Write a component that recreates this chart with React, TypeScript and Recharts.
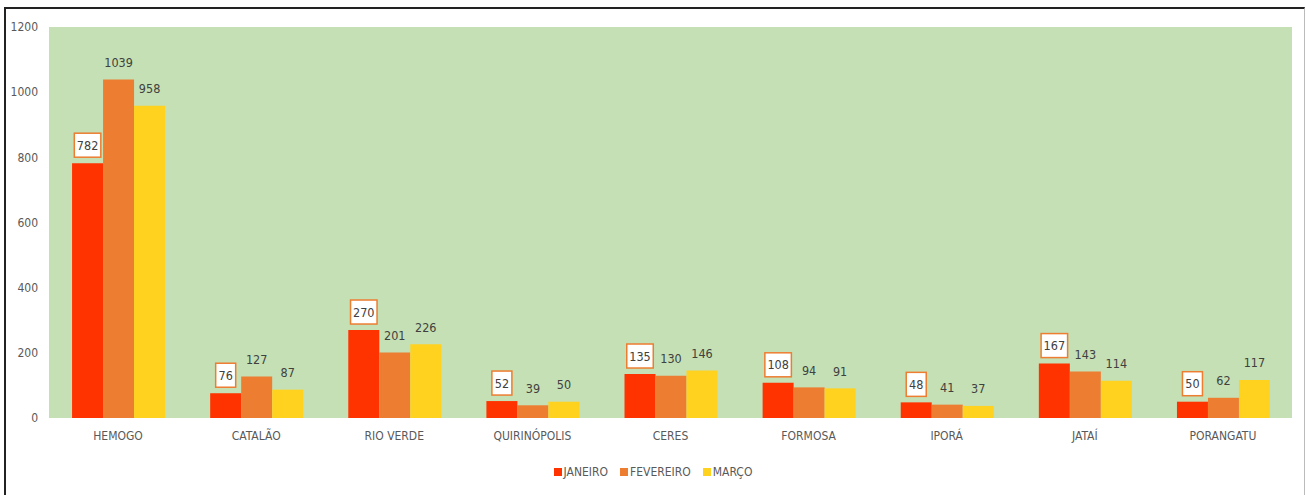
import React from 'react';
import { BarChart, Bar, XAxis, YAxis, CartesianGrid, LabelList } from 'recharts';

const categories = ['HEMOGO', 'CATALÃO', 'RIO VERDE', 'QUIRINÓPOLIS', 'CERES', 'FORMOSA', 'IPORÁ', 'JATAÍ', 'PORANGATU'];
const janeiro = [782, 76, 270, 52, 135, 108, 48, 167, 50];
const fevereiro = [1039, 127, 201, 39, 130, 94, 41, 143, 62];
const marco = [958, 87, 226, 50, 146, 91, 37, 114, 117];
const yTicks = [0, 200, 400, 600, 800, 1000, 1200];
const seriesNames = ['JANEIRO', 'FEVEREIRO', 'MARÇO'];
const seriesColors = ['#FF3300', '#ED7D31', '#FFD220'];

const data = categories.map((c, i) => ({ name: c, JANEIRO: janeiro[i], FEVEREIRO: fevereiro[i], 'MARÇO': marco[i] }));

const FONT = '"Liberation Sans Narrow", "DejaVu Sans Condensed", Arial, sans-serif';

const BoxLabel = (props: any) => {
  const { x, y, width, value } = props;
  const s = String(value);
  const w = s.length * 6.5 + 7;
  const h = 24;
  const cx = x + width / 2;
  return (
    <g>
      <rect x={cx - w / 2} y={y - 6 - h} width={w} height={h} fill="#FFFFFF" stroke="#ED7D31" strokeWidth={1.5} />
      <text x={cx} y={y - 6 - h / 2} textAnchor="middle" dominantBaseline="central" fontSize={12.5} fill="#404040" fontFamily={FONT}>{s}</text>
    </g>
  );
};

const PlainLabel = (props: any) => {
  const { x, y, width, value } = props;
  return (
    <text x={x + width / 2} y={y - 17} textAnchor="middle" dominantBaseline="central" fontSize={12.5} fill="#404040" fontFamily={FONT}>{value}</text>
  );
};

export default function App() {
  return (
    <div style={{ position: 'absolute', left: 0, top: 0, width: 1306, height: 495, background: '#fff', overflow: 'hidden', fontFamily: FONT }}>
      <div style={{ position: 'absolute', left: 4, top: 7, width: 1298, height: 500, borderTop: '2px solid #222', borderLeft: '2px solid #222', borderRight: '1px solid #bbb' }} />
      <div style={{ position: 'absolute', left: 0, top: 0 }}>
        <BarChart width={1306} height={495} data={data} margin={{ top: 27, right: 14, left: 0, bottom: 47 }} barCategoryGap="16.7%" barGap={0}>
          <CartesianGrid fill="#C5E0B4" stroke="none" horizontal={false} vertical={false} />
          <XAxis dataKey="name" height={30} axisLine={false} tickLine={false} tickSize={0} tickMargin={13} tick={{ fill: '#595959', fontSize: 12, fontFamily: FONT }} interval={0} />
          <YAxis width={49} domain={[0, 1200]} ticks={yTicks} axisLine={false} tickLine={false} tickSize={0} tickMargin={11} tick={{ fill: '#595959', fontSize: 12, fontFamily: FONT }} />
          <Bar dataKey="JANEIRO" fill={seriesColors[0]} isAnimationActive={false}>
            <LabelList dataKey="JANEIRO" content={BoxLabel} />
          </Bar>
          <Bar dataKey="FEVEREIRO" fill={seriesColors[1]} isAnimationActive={false}>
            <LabelList dataKey="FEVEREIRO" content={PlainLabel} />
          </Bar>
          <Bar dataKey="MARÇO" fill={seriesColors[2]} isAnimationActive={false}>
            <LabelList dataKey="MARÇO" content={PlainLabel} />
          </Bar>
        </BarChart>
      </div>
      <div style={{ position: 'absolute', top: 464, left: 0, width: 1306, display: 'flex', justifyContent: 'center', fontSize: 12, color: '#595959', lineHeight: '16px' }}>
        {seriesNames.map((n, i) => (
          <div key={n} style={{ display: 'flex', alignItems: 'center', marginRight: i < 2 ? 12 : 0 }}>
            <span style={{ display: 'inline-block', width: 8, height: 8, background: seriesColors[i], marginRight: 2 }} />
            <span>{n}</span>
          </div>
        ))}
      </div>
    </div>
  );
}
